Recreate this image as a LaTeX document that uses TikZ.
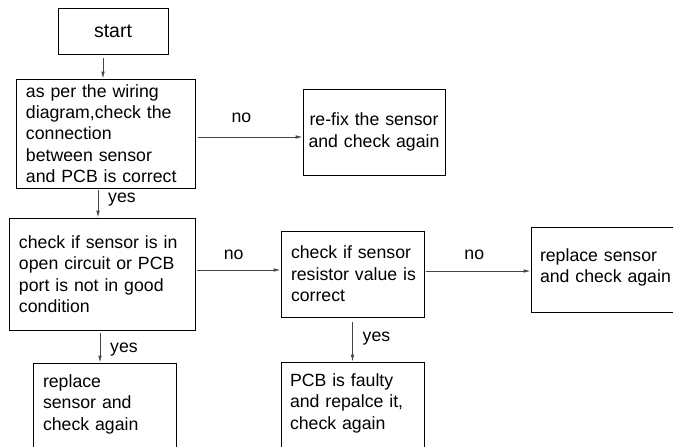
\documentclass[tikz,border=0pt]{standalone}
\usepackage{fontspec}
\setmainfont{Liberation Sans}
\usetikzlibrary{arrows.meta,positioning}
\definecolor{flowgray}{RGB}{70,70,70}

\begin{document}
\begin{tikzpicture}[x=1pt,y=-1pt,font=\fontsize{17.7}{21.4}\selectfont,box/.style={draw=black,line width=0.8pt,align=left,inner xsep=10pt,inner ysep=0pt},flow/.style={-{Latex[length=7pt,width=3.5pt]},line width=0.8pt,draw=flowgray}]
\clip (0,0) rectangle (673,447);
\node[box,align=center,minimum width=110pt,minimum height=46pt,font=\fontsize{19.5}{22}\selectfont] (start) at (113,31) {start};
\node[box,text width=159pt,minimum height=109pt] (wiring) at (105.5,133.5) {as per the wiring\\diagram,check the\\connection\\between sensor\\and PCB is correct};
\node[box,align=center,inner xsep=4pt,text width=134pt,minimum height=86pt] (refix) at (374,132) {re-fix the sensor\\and check again};
\node[box,text width=166pt,minimum height=112pt] (open) at (102,274) {check if sensor is in\\open circuit or PCB\\port is not in good\\condition};
\node[box,inner xsep=10pt,text width=123pt,minimum height=86pt] (resistor) at (352.5,274) {check if sensor\\\mbox{resistor value is}\\correct};
\node[box,inner xsep=9pt,text width=142pt,minimum height=85pt] (replace) at (611,269.5) {replace sensor\\and check again\\[-14pt]~};
\node[box,inner xsep=9pt,text width=125pt,minimum height=100pt] (faulty) at (352.5,412) {PCB is faulty\\and repalce it,\\check again\\~};
\node[box,text width=123pt,minimum height=100pt] (swap) at (104.5,413) {replace\\sensor and\\check again\\~};
\draw[flow,shorten <=4pt] ([xshift=-10pt]start.south) -- ([xshift=-2.5pt]wiring.north);
\draw[flow,shorten <=3pt] ([yshift=-3.5pt]wiring.east) -- ([yshift=-3.5pt]wiring.east -| refix.west) node[above=11pt,pos=0.43] {no};
\draw[flow,shorten <=2pt] ([xshift=-7.5pt]wiring.south) -- ([xshift=-4pt]open.north) node[right=6.5pt,pos=0.37] {yes};
\draw[flow,shorten <=2pt] ([yshift=4pt]open.east) -- ([yshift=4pt]open.east -| resistor.west) node[above=7pt,pos=0.45] {no};
\draw[flow,shorten <=2pt] ([yshift=3pt]resistor.east) -- ([yshift=3pt]resistor.east -| replace.west) node[above=8pt,pos=0.47] {no};
\draw[flow,shorten <=3pt] ([xshift=-2pt]open.south) -- ([xshift=-4.5pt]swap.north) node[right=6.5pt,pos=0.6] {yes};
\draw[flow,shorten <=5pt] (resistor.south) -- (faulty.north) node[right=6.5pt,pos=0.47] {yes};
\end{tikzpicture}
\end{document}
